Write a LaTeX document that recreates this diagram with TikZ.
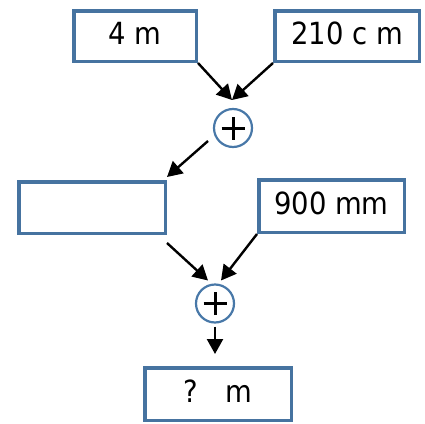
\documentclass[tikz,border=0pt]{standalone}
\usepackage{fontspec}
\setmainfont{DejaVu Sans Condensed}
\usepackage{tikz}
\usetikzlibrary{positioning,arrows.meta}
\definecolor{boxColor}{RGB}{70,115,160}
\definecolor{sumColor}{RGB}{72,120,168}
\tikzstyle{sheet} = [x = 1pt, y = -1pt]
\tikzstyle{unitBox} = [draw=boxColor, line width=3.5pt, fill=white, font=\fontsize{30.5}{36}\selectfont, text height=23pt, text depth=7pt, inner sep=0pt]
\tikzstyle{sumCircle} = [circle, draw=sumColor, line width=2.2pt, minimum size=38pt, inner sep=0pt,
  path picture={\draw [black, line width=3pt] ([xshift=-11.5pt]path picture bounding box.center) -- ++(23pt,0pt)
    ([yshift=-11.5pt]path picture bounding box.center) -- ++(0pt,23pt);}]
\tikzstyle{arrowLine} = [black, line width=2.4pt, -{Triangle[length=15pt, width=16pt]}]

\begin{document}
\begin{tikzpicture}[sheet]
          \useasboundingbox (0,0) rectangle (425,423);
          % top row
          \node [unitBox, minimum width=122.5pt, minimum height=50.5pt] (fourM) at (135,36) {4 m};
          \node [unitBox, minimum width=144.5pt, minimum height=50.5pt] (cmBox) at (347,36) {210 c m};
          \node [sumCircle] (sumOne) at (233,128) {};
          % middle row
          \node [unitBox, minimum width=146.5pt, minimum height=51.5pt] (blank) at (92,207.5) {};
          \node [unitBox, minimum width=145.5pt, minimum height=52.5pt] (mmBox) at (331.5,206) {900 mm};
          \node [sumCircle] (sumTwo) at (215,303.5) {};
          % result
          \node [unitBox, minimum width=146.5pt, minimum height=52.5pt] (answer) at (218,394) {?\hspace{0.9em}m};

          \draw [arrowLine] (fourM.south east) -- ([xshift=-1pt, yshift=28pt]sumOne.center);
          \draw [arrowLine] (cmBox.south west) -- ([xshift=-1pt, yshift=28pt]sumOne.center);
          \draw [arrowLine] ([xshift=-25pt, yshift=-13pt]sumOne.center) -- ([yshift=3pt]blank.north east);
          \draw [arrowLine] ([yshift=-8pt]blank.south east) -- ([xshift=-7pt, yshift=23pt]sumTwo.center);
          \draw [arrowLine] (mmBox.south west) -- ([xshift=6pt, yshift=23pt]sumTwo.center);
          \draw [arrowLine, shorten <=3pt] (sumTwo.south) -- ([xshift=-3pt, yshift=12pt]answer.north);
        \end{tikzpicture}
\end{document}
